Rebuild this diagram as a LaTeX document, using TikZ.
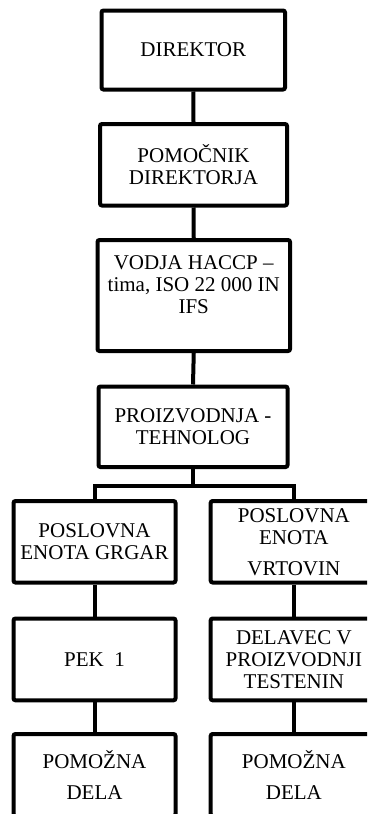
\documentclass[tikz,border=0pt]{standalone}
\usepackage{fontspec}
\setmainfont{Liberation Serif}
\begin{document}
\begin{tikzpicture}[x=1pt,y=-1pt,
  box/.style={draw=black, line width=4pt, rounded corners=2pt, inner sep=0pt,
    align=center, font=\fontsize{21}{22}\selectfont},
  conn/.style={draw=black, line width=4pt}]
\useasboundingbox (0,0) rectangle (367,814);
\clip (0,0) rectangle (367,814);
\fill[white] (0,0) rectangle (367,814);
\node[box, minimum width=183.5pt, minimum height=79pt] (b1) at (193.25,50) {DIREKTOR};
\node[box, minimum width=187pt, minimum height=81.5pt] (b2) at (193.5,164.75) {POMOČNIK\\DIREKTORJA};
\node[box, minimum width=192.5pt, minimum height=111pt] (b3) at (193.75,295.5) {VODJA HACCP –\\tima, ISO 22 000 IN\\IFS\\\mbox{}};
\node[box, minimum width=189pt, minimum height=80.5pt] (b4) at (193,426.75) {PROIZVODNJA -\\TEHNOLOG};
\node[box, minimum width=162pt, minimum height=81.5pt] (b5l) at (94.5,541.75) {POSLOVNA\\ENOTA GRGAR};
\node[box, minimum width=166.3pt, minimum height=81.5pt] (b5r) at (293.85,541.75) {POSLOVNA\\ENOTA\\[9pt]VRTOVIN};
\node[box, minimum width=162pt, minimum height=81.8pt] (b6l) at (94.5,659.4) {PEK\ \ 1};
\node[box, minimum width=166.3pt, minimum height=81.8pt] (b6r) at (293.85,659.4) {DELAVEC V\\PROIZVODNJI\\TESTENIN};
\node[box, minimum width=162pt, minimum height=82pt] (b7l) at (94.5,775) {POMOŽNA\\[9pt]DELA};
\node[box, minimum width=166.3pt, minimum height=82pt] (b7r) at (293.85,775) {POMOŽNA\\[9pt]DELA};
\coordinate (bar) at (193,486);
\draw[conn] (b1.south) -- (b2.north);
\draw[conn] (b2.south) -- (b3.north);
\draw[conn] (b3.south) -- (b4.north);
\draw[conn] (b4.south) -- (bar);
\draw[conn] (b5l.north) |- (bar) -| (b5r.north);
\draw[conn] (b5l.south) -- (b6l.north);
\draw[conn] (b6l.south) -- (b7l.north);
\draw[conn] (b5r.south) -- (b6r.north);
\draw[conn] (b6r.south) -- (b7r.north);
\end{tikzpicture}
\end{document}
